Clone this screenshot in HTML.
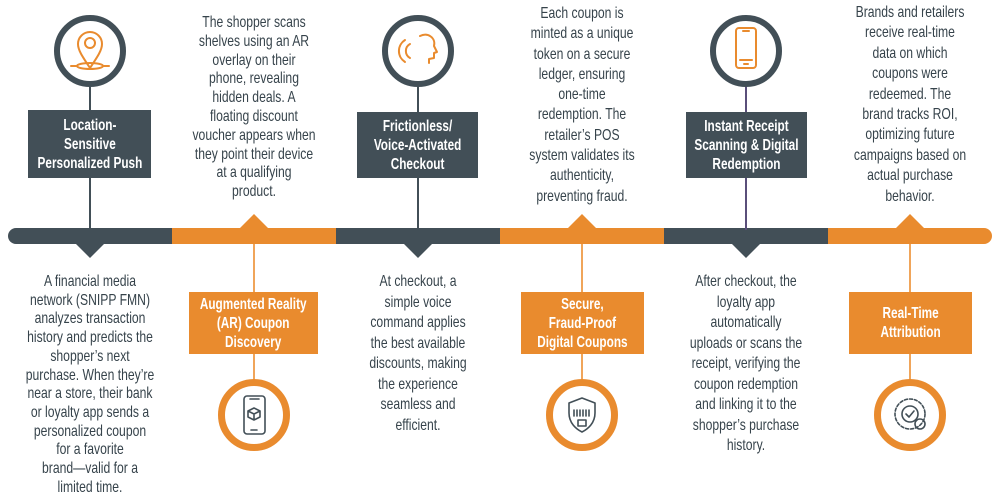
<!DOCTYPE html>
<html><head><meta charset="utf-8">
<style>
*{margin:0;padding:0;box-sizing:border-box}
body{width:1000px;height:502px;background:#fff;position:relative;overflow:hidden;font-family:"Liberation Sans",sans-serif;}
.abs{position:absolute}
.txt{position:absolute;text-align:center;color:#36434b;font-size:16px;line-height:20.5px;width:200px;white-space:nowrap;transform:scaleX(.76);transform-origin:center top;}
.box{position:absolute;color:#fff;font-weight:bold;font-size:15.5px;line-height:19px;text-align:center;display:flex;align-items:center;justify-content:center;white-space:nowrap;}
.box span{display:inline-block;transform:scaleX(.76);}
.dk{background:#424f57}
.or{background:#e98b2e}
.circ{position:absolute;width:72px;height:72px;border-radius:50%;background:#fff;}
.cd{border:6px solid #424f57}
.co{border:7px solid #e98b2e}
.vl{position:absolute;width:2px}
.seg{position:absolute;top:228px;height:16px}
</style></head><body>
<div class="seg dk" style="left:8px;width:164px;border-radius:8px 0 0 8px"></div>
<div class="seg or" style="left:172px;width:164px"></div>
<div class="seg dk" style="left:336px;width:164px"></div>
<div class="seg or" style="left:500px;width:164px"></div>
<div class="seg dk" style="left:664px;width:164px"></div>
<div class="seg or" style="left:828px;width:164px;border-radius:0 8px 8px 0"></div>
<svg class="abs" style="left:0;top:0" width="1000" height="502">
<polygon points="76,244 104,244 90,258" fill="#424f57"/>
<polygon points="404,244 432,244 418,258" fill="#424f57"/>
<polygon points="732,244 760,244 746,258" fill="#424f57"/>
<polygon points="240,228 268,228 254,214" fill="#e98b2e"/>
<polygon points="568,228 596,228 582,214" fill="#e98b2e"/>
<polygon points="896,228 924,228 910,214" fill="#e98b2e"/>
</svg>
<div class="vl" style="left:89px;top:80px;height:150px;background:#424f57"></div>
<div class="vl" style="left:417px;top:80px;height:150px;background:#424f57"></div>
<div class="vl" style="left:745px;top:80px;height:150px;background:#5a4f7a"></div>
<div class="vl" style="left:253px;top:244px;height:150px;background:#f0a55a"></div>
<div class="vl" style="left:581px;top:244px;height:150px;background:#f0a55a"></div>
<div class="vl" style="left:909px;top:244px;height:150px;background:#f0a55a"></div>
<div class="circ cd" style="left:54px;top:15px"></div>
<div class="circ cd" style="left:382px;top:15px"></div>
<div class="circ cd" style="left:710px;top:15px"></div>
<div class="circ co" style="left:218px;top:379px"></div>
<div class="circ co" style="left:546px;top:379px"></div>
<div class="circ co" style="left:874px;top:379px"></div>
<svg class="abs" style="left:0;top:0" width="1000" height="502" fill="none" stroke-linecap="round" stroke-linejoin="round">
<g stroke="#e98b2e" stroke-width="2">
<path d="M90,68 C82,56 78,50 78,44 A12,12 0 0 1 102,44 C102,50 98,56 90,68Z"/>
<circle cx="90" cy="43" r="5"/>
<ellipse cx="90" cy="66" rx="13" ry="3"/>
<path d="M71,66 H77 M103,66 H109"/>
<path d="M410,44 a8,8 0 0 0 0,14 M405,40 a13,13 0 0 0 0,22"/>
<path d="M420,36 c8,-4 16,2 14,10 l3,6 -3,1 0,5 -5,1 0,4"/>
<rect x="736" y="28" width="20" height="40" rx="3"/>
<path d="M743,31 h6 M740,60 h12 M744,64 h4"/>
</g>
<g stroke="#424f57" stroke-width="1.6">
<rect x="244" y="396" width="21" height="38" rx="3"/>
<path d="M250,399 h9 M251,430 h6"/>
<path d="M254,408 l6,3 v6 l-6,3 -6,-3 v-6z M248,411 l6,3 6,-3 M254,414 v6"/>
<path d="M582,398 l13,5 v10 c0,10 -7,16 -13,19 c-6,-3 -13,-9 -13,-19 v-10z"/>
<path d="M574,410 v6 M577,410 v6 M580,410 v6 M583,410 v6 M586,410 v6 M589,410 v6"/>
<rect x="578" y="420" width="8" height="6"/>
<circle cx="910" cy="414" r="15" stroke-dasharray="3 2"/>
<circle cx="910" cy="414" r="8"/>
<path d="M906,414 l3,3 5,-6"/>
<circle cx="920" cy="424" r="5"/>
</g>
</svg>
<div class="box dk" style="left:28px;top:110px;width:123px;height:68px"><span>Location-<br>Sensitive<br>Personalized Push</span></div>
<div class="box dk" style="left:357px;top:112px;width:121px;height:66px"><span>Frictionless/<br>Voice-Activated<br>Checkout</span></div>
<div class="box dk" style="left:686px;top:112px;width:121px;height:66px"><span>Instant Receipt<br>Scanning &amp; Digital<br>Redemption</span></div>
<div class="box or" style="left:189px;top:292px;width:129px;height:62px"><span>Augmented Reality<br>(AR) Coupon<br>Discovery</span></div>
<div class="box or" style="left:521px;top:292px;width:123px;height:62px"><span>Secure,<br>Fraud-Proof<br>Digital Coupons</span></div>
<div class="box or" style="left:849px;top:292px;width:123px;height:62px"><span>Real-Time<br>Attribution</span></div>
<div class="txt" style="left:154px;top:14px;line-height:18.8px">The shopper scans<br>shelves using an AR<br>overlay on their<br>phone, revealing<br>hidden deals. A<br>floating discount<br>voucher appears when<br>they point their device<br>at a qualifying<br>product.</div>
<div class="txt" style="left:482px;top:4px;line-height:20.3px">Each coupon is<br>minted as a unique<br>token on a secure<br>ledger, ensuring<br>one-time<br>redemption. The<br>retailer’s POS<br>system validates its<br>authenticity,<br>preventing fraud.</div>
<div class="txt" style="left:810px;top:3px;line-height:20.4px">Brands and retailers<br>receive real-time<br>data on which<br>coupons were<br>redeemed. The<br>brand tracks ROI,<br>optimizing future<br>campaigns based on<br>actual purchase<br>behavior.</div>
<div class="txt" style="left:-10px;top:273px;line-height:18.7px">A financial media<br>network (SNIPP FMN)<br>analyzes transaction<br>history and predicts the<br>shopper’s next<br>purchase. When they’re<br>near a store, their bank<br>or loyalty app sends a<br>personalized coupon<br>for a favorite<br>brand—valid for a<br>limited time.</div>
<div class="txt" style="left:318px;top:272px">At checkout, a<br>simple voice<br>command applies<br>the best available<br>discounts, making<br>the experience<br>seamless and<br>efficient.</div>
<div class="txt" style="left:646px;top:272px">After checkout, the<br>loyalty app<br>automatically<br>uploads or scans the<br>receipt, verifying the<br>coupon redemption<br>and linking it to the<br>shopper’s purchase<br>history.</div>
</body></html>
